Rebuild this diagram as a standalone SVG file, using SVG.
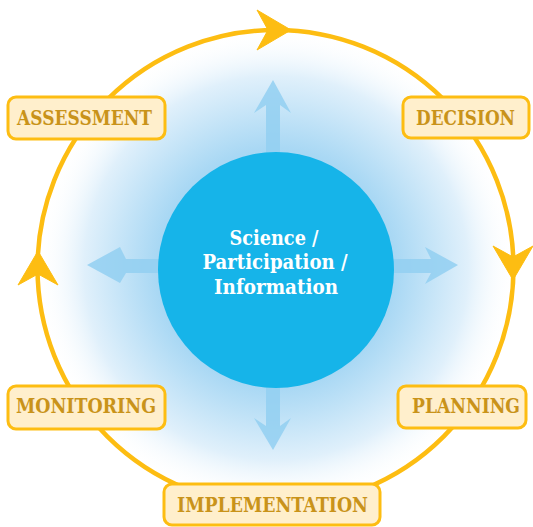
<svg xmlns="http://www.w3.org/2000/svg" width="533" height="527" viewBox="0 0 533 527">
<defs>
<radialGradient id="glow" cx="276" cy="268" r="240" gradientUnits="userSpaceOnUse">
<stop offset="0" stop-color="#7EC3EE"/>
<stop offset="0.5" stop-color="#A9D8F4"/>
<stop offset="0.8" stop-color="#E0F0FB"/>
<stop offset="1" stop-color="#FFFFFF" stop-opacity="0"/>
</radialGradient>
<path id="cyc" d="M16,0 L-18,-20 L-7,0 L-18,20 Z"/>
</defs>
<style>
.ring{fill:none;stroke:#FDBD12;stroke-width:4.5}
.cycarr{fill:#FDBD12;stroke:#FDBD12;stroke-width:1;stroke-linejoin:round}
.box{fill:#FFEFCC;stroke:#FDBD12;stroke-width:3}
.lbl{font-family:"DejaVu Serif","Liberation Serif",serif;font-weight:bold;font-size:19.5px;fill:#C9931A;text-anchor:middle}
.ctr{font-family:"DejaVu Serif","Liberation Serif",serif;font-weight:bold;font-size:20px;fill:#FFFFFF;text-anchor:middle}
.shaft{fill:#93D0F2;opacity:0.85}
</style>
<rect width="533" height="527" fill="#FFFFFF"/>
<circle cx="276" cy="268" r="240" fill="url(#glow)"/>
<g id="connectors">
<circle class="ring" cx="275.5" cy="268" r="238"/>
<use href="#cyc" class="cycarr" transform="translate(275,30)"/>
<use href="#cyc" class="cycarr" transform="translate(513,264) rotate(90)"/>
<use href="#cyc" class="cycarr" transform="translate(38,267) rotate(-90)"/>
<g class="shaft">
<path d="M266,160 L266,105 L254,113 L273,80 L291,113 L280,105 L280,160 Z"/>
<path d="M266,380 L266,426 L254,418 L273,450 L291,418 L280,426 L280,380 Z"/>
<path d="M170,259 L126,259 L120,247 L87,265 L120,283 L126,273 L170,273 Z"/>
<path d="M385,259 L431,259 L425,247 L458,265 L425,284 L431,273 L385,273 Z"/>
</g>
</g>
<g id="center">
<circle cx="276" cy="270" r="118" fill="#16B4E9"/>
<text class="ctr" x="274" y="245" textLength="89" lengthAdjust="spacingAndGlyphs">Science /</text>
<text class="ctr" x="275" y="269" textLength="145" lengthAdjust="spacingAndGlyphs">Participation /</text>
<text class="ctr" x="276" y="294" textLength="124" lengthAdjust="spacingAndGlyphs">Information</text>
</g>
<g id="assessment">
<rect class="box" x="8" y="97" width="157" height="42" rx="8"/>
<text class="lbl" x="84.5" y="125" textLength="135" lengthAdjust="spacingAndGlyphs">ASSESSMENT</text>
</g>
<g id="decision">
<rect class="box" x="403" y="97" width="126" height="41" rx="8"/>
<text class="lbl" x="465.5" y="125" textLength="99" lengthAdjust="spacingAndGlyphs">DECISION</text>
</g>
<g id="planning">
<rect class="box" x="398" y="386" width="128" height="42" rx="8"/>
<text class="lbl" x="466" y="413" textLength="108" lengthAdjust="spacingAndGlyphs">PLANNING</text>
</g>
<g id="implementation">
<rect class="box" x="164" y="484" width="216" height="41" rx="8"/>
<text class="lbl" x="272.5" y="512" textLength="191" lengthAdjust="spacingAndGlyphs">IMPLEMENTATION</text>
</g>
<g id="monitoring">
<rect class="box" x="8" y="386" width="157" height="43" rx="8"/>
<text class="lbl" x="86" y="413" textLength="140" lengthAdjust="spacingAndGlyphs">MONITORING</text>
</g>
</svg>
